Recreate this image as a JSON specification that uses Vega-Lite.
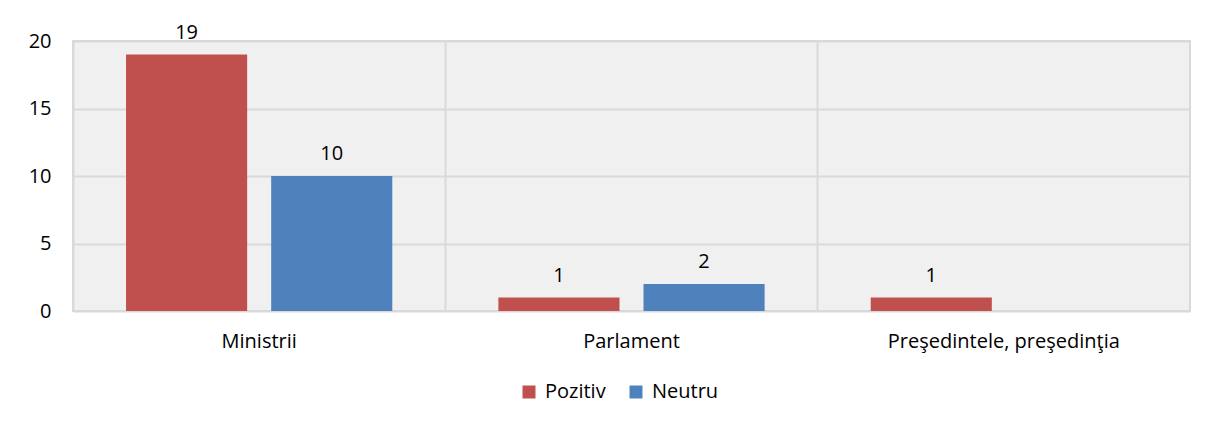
{
  "$schema": "https://vega.github.io/schema/vega-lite/v6.json",
  "autosize": {"type": "none"},
  "width": 1117,
  "height": 270,
  "padding": {"left": 73, "top": 41, "right": 18, "bottom": 115},
  "background": "white",
  "data": {
    "values": [
      {"cat": "Ministrii", "serie": "Pozitiv", "val": 19},
      {"cat": "Ministrii", "serie": "Neutru", "val": 10},
      {"cat": "Parlament", "serie": "Pozitiv", "val": 1},
      {"cat": "Parlament", "serie": "Neutru", "val": 2},
      {"cat": "Preşedintele, preşedinţia", "serie": "Pozitiv", "val": 1}
    ]
  },
  "encoding": {
    "x": {
      "field": "cat",
      "type": "nominal",
      "sort": null,
      "scale": {"paddingInner": 0, "paddingOuter": 0},
      "axis": {
        "title": null,
        "labelAngle": 0,
        "labelLimit": 0,
        "grid": true,
        "bandPosition": 0,
        "gridColor": "#d9d9d9",
        "gridWidth": 2,
        "ticks": false,
        "domain": false,
        "labelPadding": 20,
        "labelFontSize": 20,
        "labelColor": "#000000"
      }
    },
    "xOffset": {
      "field": "serie",
      "type": "nominal",
      "sort": ["Pozitiv", "Neutru"],
      "scale": {"paddingInner": 0.1655, "paddingOuter": 0.3655}
    },
    "y": {
      "field": "val",
      "type": "quantitative",
      "scale": {"domain": [0, 20], "nice": false},
      "axis": {
        "title": null,
        "values": [0, 5, 10, 15, 20],
        "domain": false,
        "ticks": false,
        "labelPadding": 22,
        "labelFontSize": 20,
        "labelColor": "#000000",
        "gridColor": "#d9d9d9",
        "gridWidth": 2
      }
    }
  },
  "layer": [
    {
      "mark": {"type": "bar"},
      "encoding": {
        "color": {
          "field": "serie",
          "type": "nominal",
          "sort": ["Pozitiv", "Neutru"],
          "scale": {"domain": ["Pozitiv", "Neutru"], "range": ["#C0504D", "#4F81BD"]},
          "legend": {
            "orient": "none",
            "legendX": 446,
            "legendY": 341,
            "direction": "horizontal",
            "title": null,
            "symbolType": "square",
            "symbolSize": 169,
            "symbolStrokeWidth": 0,
            "labelFontSize": 20,
            "labelColor": "#000000",
            "columnPadding": 20,
            "labelOffset": 6
          }
        }
      }
    },
    {
      "mark": {"type": "text", "dy": -16, "baseline": "alphabetic", "fontSize": 20, "color": "#000000"},
      "encoding": {"text": {"field": "val", "type": "quantitative"}}
    }
  ],
  "config": {
    "font": "Open Sans",
    "view": {"fill": "#f0f0f0", "stroke": "#d9d9d9", "strokeWidth": 2}
  }
}
